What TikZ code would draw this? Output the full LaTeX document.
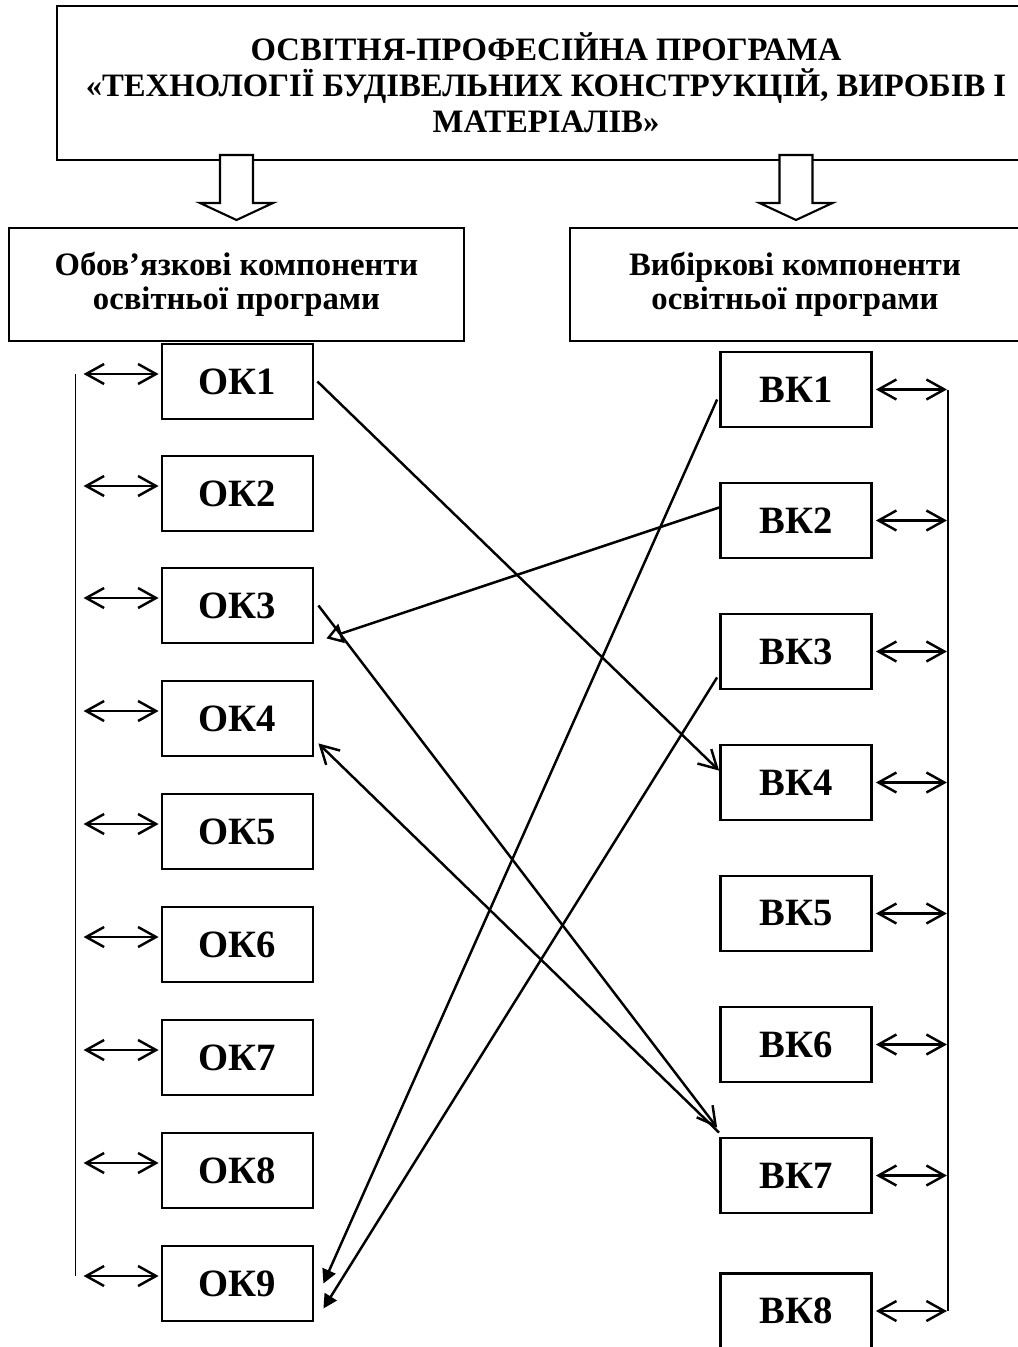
\documentclass[tikz,border=0pt]{standalone}
\usepackage{fontspec}
\setmainfont{Liberation Serif}
\usetikzlibrary{arrows.meta}
\tikzset{
>={Straight Barb[length=3.6mm,width=4mm]}, % open barbs like in the scheme
box/.style={draw, line width=1.6pt, minimum width=3.02cm, minimum height=1.5cm, inner sep=0pt, font=\bfseries\fontsize{22}{24}\selectfont}, % OK and BK boxes
header/.style={draw, line width=1.6pt, minimum height=2.26cm, inner sep=0pt, align=center, font=\bfseries\fontsize{18.6}{19.5}\selectfont}, % the two groups
link/.style={line width=1.4pt}, % connectors
hollow/.style={draw, line width=1.2pt, fill=white}, % the two fat arrows
}
\begin{document}
\begin{tikzpicture}
        \useasboundingbox (0,0) rectangle (20.34,-26.94);
        \node[draw, line width=1.7pt, minimum width=19.56cm, minimum height=3.08cm, align=center, font=\bfseries\fontsize{18.6}{20.5}\selectfont] at (10.92,-1.66) (title) {ОСВІТНЯ-ПРОФЕСІЙНА ПРОГРАМА\\«ТЕХНОЛОГІЇ БУДІВЕЛЬНИХ КОНСТРУКЦІЙ, ВИРОБІВ І\\МАТЕРІАЛІВ»};
        \node[header, minimum width=9.1cm] at (4.73,-5.69) (oblig) {Обов’язкові компоненти\\освітньої програми};
        \node[header, minimum width=9.0cm] at (15.9,-5.69) (vybir) {Вибіркові компоненти\\освітньої програми};
        % fat arrows under the title
        \draw[hollow] (4.40,-3.10) -- (4.40,-4.06) -- (4.00,-4.06) -- (4.73,-4.40) -- (5.46,-4.06) -- (5.06,-4.06) -- (5.06,-3.10) -- cycle;
        \draw[hollow] (15.59,-3.10) -- (15.59,-4.06) -- (15.19,-4.06) -- (15.92,-4.40) -- (16.65,-4.06) -- (16.25,-4.06) -- (16.25,-3.10) -- cycle;
        % obligatory components
        \node[box] at (4.75,-7.63) (ok1) {ОК1};
        \node[box] at (4.75,-9.87) (ok2) {ОК2};
        \node[box] at (4.75,-12.11) (ok3) {ОК3};
        \node[box] at (4.75,-14.37) (ok4) {ОК4};
        \node[box] at (4.75,-16.63) (ok5) {ОК5};
        \node[box] at (4.75,-18.89) (ok6) {ОК6};
        \node[box] at (4.75,-21.15) (ok7) {ОК7};
        \node[box] at (4.75,-23.41) (ok8) {ОК8};
        \node[box] at (4.75,-25.67) (ok9) {ОК9};
        % elective components
        \node[box] at (15.92,-7.79) (bk1) {ВК1};
        \node[box] at (15.92,-10.41) (bk2) {ВК2};
        \node[box] at (15.92,-13.03) (bk3) {ВК3};
        \node[box] at (15.92,-15.65) (bk4) {ВК4};
        \node[box] at (15.92,-18.27) (bk5) {ВК5};
        \node[box] at (15.92,-20.89) (bk6) {ВК6};
        \node[box] at (15.92,-23.51) (bk7) {ВК7};
        \node[box] at (15.92,-26.22) (bk8) {ВК8};
        % left bus
        \draw[line width=0.6pt] ([xshift=-1.7cm,yshift=0.15cm]ok1.west) -- ([xshift=-1.7cm,yshift=0.15cm]ok9.west);
        \draw[link]
        ([xshift=-1.54cm,yshift=0.15cm]ok1.west) edge[<->] ([xshift=-0.04cm,yshift=0.15cm]ok1.west)
        ([xshift=-1.54cm,yshift=0.15cm]ok2.west) edge[<->] ([xshift=-0.04cm,yshift=0.15cm]ok2.west)
        ([xshift=-1.54cm,yshift=0.15cm]ok3.west) edge[<->] ([xshift=-0.04cm,yshift=0.15cm]ok3.west)
        ([xshift=-1.54cm,yshift=0.15cm]ok4.west) edge[<->] ([xshift=-0.04cm,yshift=0.15cm]ok4.west)
        ([xshift=-1.54cm,yshift=0.15cm]ok5.west) edge[<->] ([xshift=-0.04cm,yshift=0.15cm]ok5.west)
        ([xshift=-1.54cm,yshift=0.15cm]ok6.west) edge[<->] ([xshift=-0.04cm,yshift=0.15cm]ok6.west)
        ([xshift=-1.54cm,yshift=0.15cm]ok7.west) edge[<->] ([xshift=-0.04cm,yshift=0.15cm]ok7.west)
        ([xshift=-1.54cm,yshift=0.15cm]ok8.west) edge[<->] ([xshift=-0.04cm,yshift=0.15cm]ok8.west)
        ([xshift=-1.54cm,yshift=0.15cm]ok9.west) edge[<->] ([xshift=-0.04cm,yshift=0.15cm]ok9.west)
        ;
        % right bus
        \draw[link] ([xshift=1.5cm]bk1.east) -- ([xshift=1.5cm]bk8.east);
        \draw[link]
        ([xshift=0.06cm]bk1.east) edge[<->] ([xshift=1.48cm]bk1.east)
        ([xshift=0.06cm]bk2.east) edge[<->] ([xshift=1.48cm]bk2.east)
        ([xshift=0.06cm]bk3.east) edge[<->] ([xshift=1.48cm]bk3.east)
        ([xshift=0.06cm]bk4.east) edge[<->] ([xshift=1.48cm]bk4.east)
        ([xshift=0.06cm]bk5.east) edge[<->] ([xshift=1.48cm]bk5.east)
        ([xshift=0.06cm]bk6.east) edge[<->] ([xshift=1.48cm]bk6.east)
        ([xshift=0.06cm]bk7.east) edge[<->] ([xshift=1.48cm]bk7.east)
        ([xshift=0.06cm]bk8.east) edge[<->] ([xshift=1.48cm]bk8.east)
        ;
        % cross links
        \draw[link, ->] ([xshift=0.06cm]ok1.east) -- ([yshift=-0.54cm]bk4.north west);
        \draw[link, ->] ([xshift=0.08cm]ok3.east) -- ([xshift=-0.04cm,yshift=0.18cm]bk7.north west);
        \draw[link, <-] ([xshift=0.08cm,yshift=0.28cm]ok4.south east) -- ([yshift=0.08cm]bk7.north west);
        \draw[link, -{Triangle[open,length=3.2mm,width=4mm]}] ([yshift=0.26cm]bk2.west) -- ([xshift=0.24cm,yshift=0.12cm]ok3.south east);
        \draw[link, -{Triangle[length=2.8mm,width=2.8mm]}] ([xshift=-0.04cm,yshift=-0.2cm]bk1.west) -- ([xshift=0.18cm]ok9.east);
        \draw[link, -{Triangle[length=2.8mm,width=2.8mm]}] ([xshift=-0.04cm,yshift=0.26cm]bk3.south west) -- ([xshift=0.18cm,yshift=-0.5cm]ok9.east);
    \end{tikzpicture}
\end{document}
